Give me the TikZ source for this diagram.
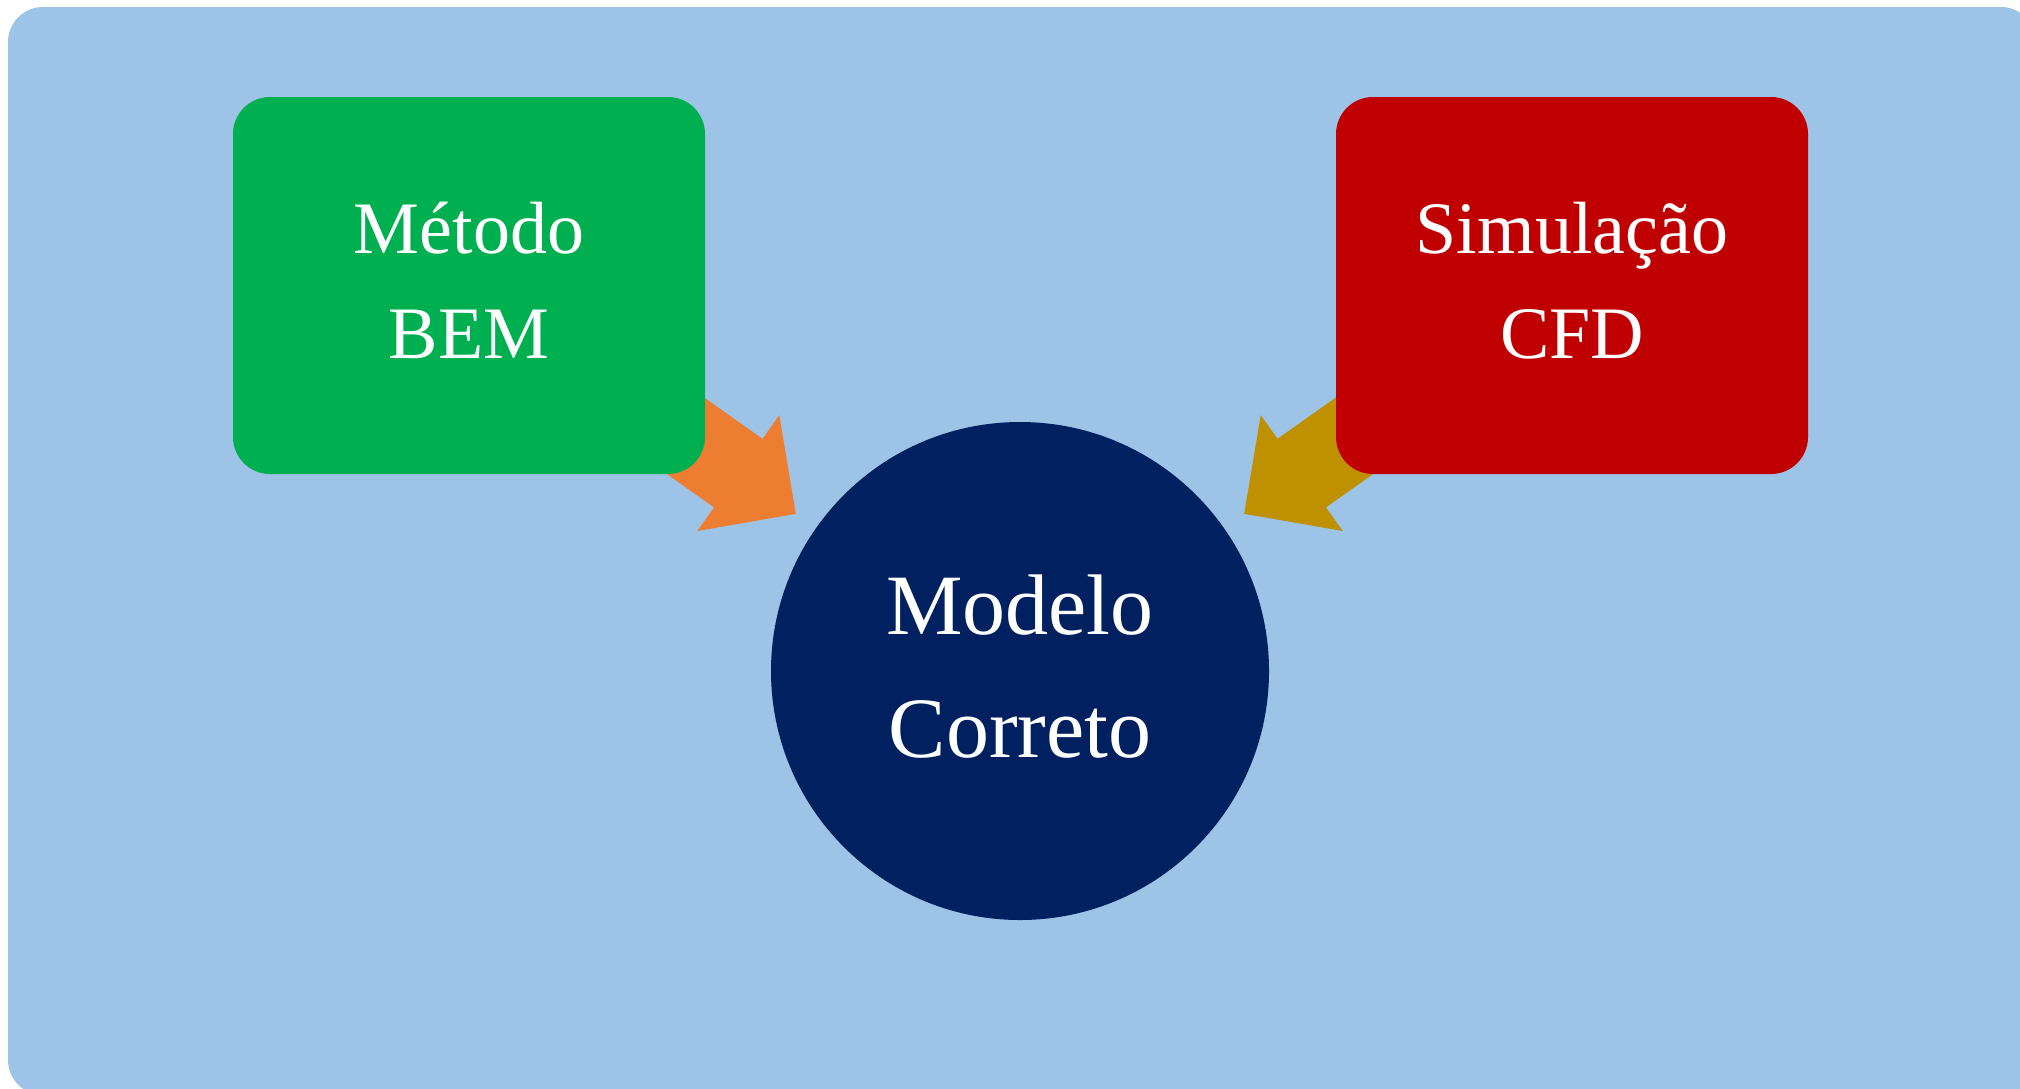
\documentclass[tikz,border=0pt]{standalone}
\usepackage{fontspec}
\setmainfont{Liberation Serif}
\definecolor{bgblue}{HTML}{9DC3E6}
\definecolor{bemgreen}{HTML}{00B050}
\definecolor{cfdred}{HTML}{C00000}
\definecolor{navy}{HTML}{002060}
\definecolor{arrorange}{HTML}{ED7D31}
\definecolor{arrgold}{HTML}{BF9000}
\tikzset{
  boxstyle/.style={rectangle, rounded corners=37pt, minimum width=472pt, minimum height=377pt, inner sep=0pt, draw=none},
  circstyle/.style={circle, minimum size=498pt, inner sep=0pt, draw=none, fill=navy},
  boxtext/.style={text=white, inner sep=0pt, anchor=base, font=\fontsize{74}{105}\selectfont},
  circtext/.style={text=white, inner sep=0pt, anchor=base, font=\fontsize{86}{123}\selectfont},
}
\begin{document}
\begin{tikzpicture}[x=1pt,y=-1pt]
\clip (0,0) rectangle (2020,1088);
\useasboundingbox (0,0) rectangle (2020,1088);
% background
\fill[bgblue, rounded corners=35pt] (8,7) rectangle (2036,1095);
% block arrows
\fill[arrorange] (599.3,323.4) -- (762.5,438.8) -- (779.3,415.2) -- (795.8,513.8)
  -- (697.3,531) -- (714.1,507.4) -- (550.9,392) -- cycle;
\fill[arrgold] (1440.7,323.4) -- (1277.5,438.8) -- (1260.7,415.2) -- (1244.2,513.8)
  -- (1342.7,531) -- (1325.9,507.4) -- (1489.1,392) -- cycle;
% boxes
\node[boxstyle, fill=bemgreen] (bem) at (469,285.5) {};
\node[boxstyle, fill=cfdred] (cfd) at (1572,285.5) {};
\node[circstyle] (mod) at (1020,671) {};
% texts
\node[boxtext] (bem1) at ([yshift=32.5pt]bem.center) {Método};
\node[boxtext] (bem2) at ([yshift=-72.5pt]bem.center) {BEM};
\node[boxtext] (cfd1) at ([yshift=32.5pt]cfd.center) {Simulação};
\node[boxtext] (cfd2) at ([yshift=-72.5pt]cfd.center) {CFD};
\node[circtext] (mod1) at ([yshift=37pt]mod.center) {Modelo};
\node[circtext] (mod2) at ([yshift=-86pt]mod.center) {Correto};
\end{tikzpicture}
\end{document}
